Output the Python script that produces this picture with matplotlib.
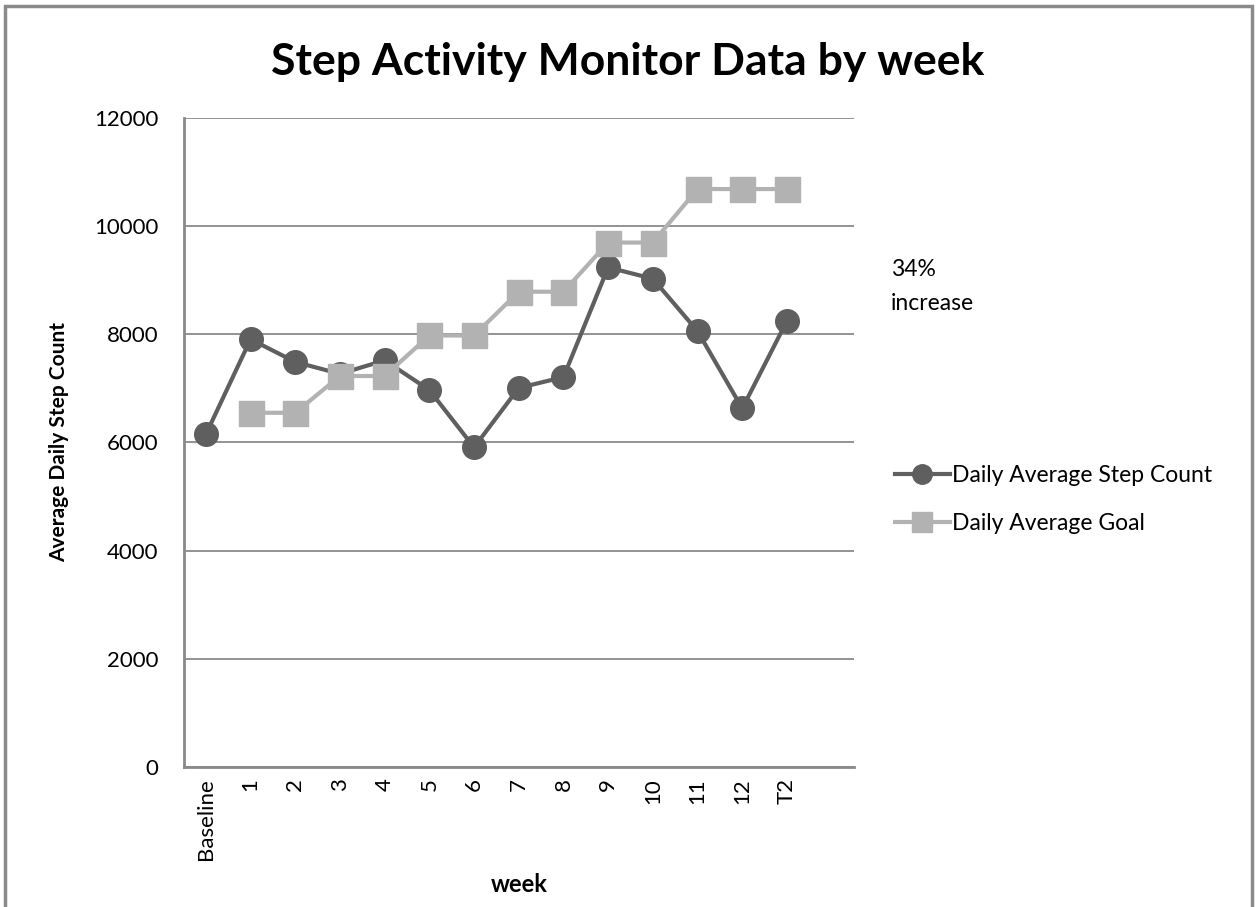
import numpy as np
import matplotlib
matplotlib.use("Agg")
import matplotlib.pyplot as plt
from matplotlib.patches import Rectangle

weeks = ["Baseline", "1", "2", "3", "4", "5", "6", "7", "8", "9", "10", "11", "12", "T2"]
step_count = [6150, 7910, 7490, 7270, 7520, 6970, 5910, 7010, 7210, 9240, 9030, 8060, 6630, 8250]
goal = [np.nan, 6550, 6550, 7230, 7230, 7980, 7980, 8790, 8790, 9700, 9700, 10690, 10690, 10690]

FONT = ["Lato", "DejaVu Sans"]
plt.rcParams["font.family"] = FONT

DARK = "#5f5f5f"
LIGHT = "#b2b2b2"
GRID = "#8a8a8a"

fig = plt.figure(figsize=(12.57, 9.07), dpi=100)
ax = fig.add_axes([0.146, 0.1547, 0.5334, 0.7149])

x = np.arange(len(weeks))
ax.plot(x, step_count, color=DARK, lw=3, marker="o", markersize=17,
        label="Daily Average Step Count", zorder=3)
ax.plot(x, goal, color=LIGHT, lw=3, marker="s", markersize=18,
        label="Daily Average Goal", zorder=4)

ax.set_xlim(-0.5, len(weeks) + 0.5)
ax.set_ylim(0, 12000)
ax.set_yticks(range(0, 12001, 2000))
ax.set_xticks(x)
ax.set_xticklabels(weeks, rotation=90, va="top")
ax.tick_params(axis="both", length=0, labelsize=16, colors="black")
ax.tick_params(axis="y", pad=18)
ax.tick_params(axis="x", pad=8)
ax.yaxis.grid(True, color=GRID, lw=1.3)
ax.set_axisbelow(True)
for side in ["top", "right"]:
    ax.spines[side].set_visible(False)
for side in ["left", "bottom"]:
    ax.spines[side].set_color(GRID)
    ax.spines[side].set_linewidth(2)

ax.set_xlabel("week", fontsize=17, fontweight="bold", labelpad=10)
ax.set_ylabel("Average Daily Step Count", fontsize=15, fontweight="bold", labelpad=18)

fig.text(0.4996, 0.932, "Step Activity Monitor Data by week", ha="center", va="center",
         fontsize=32, fontweight="bold")
fig.text(0.709, 0.684, "34%\nincrease", ha="left", va="center", fontsize=16.5,
         linespacing=1.75)

leg = ax.legend(loc="center left", bbox_to_anchor=(1.03, 0.412), frameon=False,
                fontsize=16.5, handlelength=2.4, handletextpad=0.1, labelspacing=1.2)
for h in leg.legend_handles:
    h.set_markersize(14)

fig.patches.append(Rectangle((0.004, -0.01), 0.992, 1.003, transform=fig.transFigure,
                             fill=False, edgecolor=GRID, lw=2.5))

fig.savefig("out.png", dpi=100, facecolor="white")
